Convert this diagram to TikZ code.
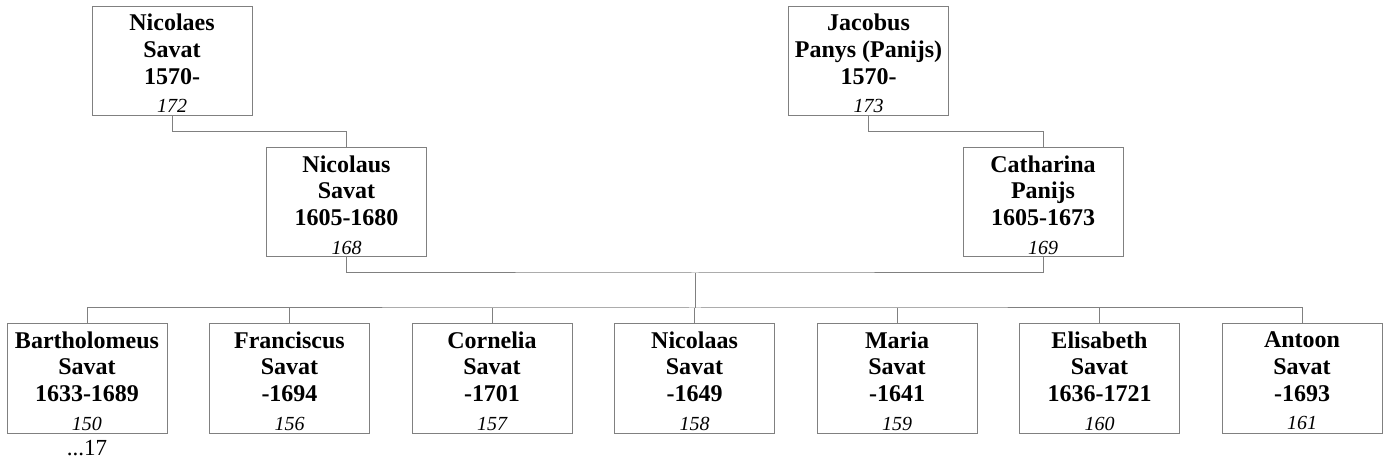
\documentclass[tikz,border=0pt]{standalone}
\usepackage{fontspec}
\setmainfont{Liberation Serif}
\definecolor{lc}{RGB}{128,128,128}
\newcommand{\pnum}[1]{{\fontsize{20}{26.5}\selectfont\mdseries\itshape #1}}
\begin{document}
\begin{tikzpicture}[x=1pt,y=-1pt,
  pbox/.style={draw=lc,line width=1pt,minimum width=160pt,minimum height=109pt,inner sep=0pt,align=center,
    font=\fontsize{24}{26.6}\selectfont\bfseries},
  txt/.style={font=\fontsize{24}{26.6}\selectfont\bfseries,align=center,inner sep=0pt},
  conn/.style={draw=lc,line width=1pt}]
\useasboundingbox (0,0) rectangle (1385,462);
% boxes
\node[pbox] (n172) at (172,61) {};
\node[pbox] (n173) at (868.5,61) {};
\node[pbox] (n168) at (346.5,202.5) {};
\node[pbox] (n169) at (1043,202.5) {};
\node[pbox] (c1) at (87,378.5) {};
\node[pbox] (c2) at (289.5,378.5) {};
\node[pbox] (c3) at (492,378.5) {};
\node[pbox] (c4) at (694.5,378.5) {};
\node[pbox] (c5) at (897,378.5) {};
\node[pbox] (c6) at (1099.5,378.5) {};
\node[pbox] (c7) at (1302,378.5) {};
% texts
\node[txt] (t172) at ([yshift=-2.5pt]n172.center) {Nicolaes\\Savat\\1570-\\[2pt]\pnum{172}};
\node[txt] (t173) at ([yshift=-2.5pt]n173.center) {Jacobus\\Panys (Panijs)\\1570-\\[2pt]\pnum{173}};
\node[txt] (t168) at ([yshift=-2.5pt]n168.center) {Nicolaus\\Savat\\1605-1680\\[2pt]\pnum{168}};
\node[txt] (t169) at ([yshift=-2.5pt]n169.center) {Catharina\\Panijs\\1605-1673\\[2pt]\pnum{169}};
\node[txt] (tc1) at ([yshift=-2.5pt]c1.center) {Bartholomeus\\Savat\\1633-1689\\[2pt]\pnum{150}};
\node[txt] (tc2) at ([yshift=-2.5pt]c2.center) {Franciscus\\Savat\\-1694\\[2pt]\pnum{156}};
\node[txt] (tc3) at ([yshift=-2.5pt]c3.center) {Cornelia\\Savat\\-1701\\[2pt]\pnum{157}};
\node[txt] (tc4) at ([yshift=-2.5pt]c4.center) {Nicolaas\\Savat\\-1649\\[2pt]\pnum{158}};
\node[txt] (tc5) at ([yshift=-2.5pt]c5.center) {Maria\\Savat\\-1641\\[2pt]\pnum{159}};
\node[txt] (tc6) at ([yshift=-2.5pt]c6.center) {Elisabeth\\Savat\\1636-1721\\[2pt]\pnum{160}};
\node[txt] (tc7) at ([yshift=-2.5pt]c7.center) {Antoon\\Savat\\-1693\\[2pt]\pnum{161}};
\node[font=\fontsize{23}{26}\selectfont] (more) at (87,448) {...17};
\coordinate (cm) at (695,273);
\coordinate (bar) at (695,308);
\draw[conn] (n172.south) -- ++(0,16) -| (n168.north);
\draw[conn] (n173.south) -- ++(0,16) -| (n169.north);
\draw[conn] (n168.south) |- (cm) -| (n169.south);
\draw[conn] (cm) -- (bar);
\draw[conn] (c1.north) |- (bar) -| (c7.north);
\foreach \c in {c2,c3,c4,c5,c6}{\draw[conn] (\c.north) -- (\c.north |- bar);}
\end{tikzpicture}
\end{document}
